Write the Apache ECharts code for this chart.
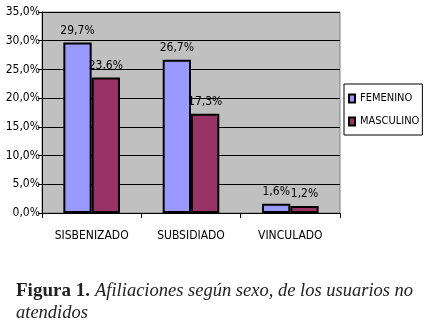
<!DOCTYPE html>
<html>
<head>
<meta charset="utf-8">
<script src="https://cdn.jsdelivr.net/npm/echarts@6/dist/echarts.min.js"></script>
<style>
  html, body { margin: 0; padding: 0; background: #fff; }
  #chart { width: 425px; height: 327px; }
</style>
</head>
<body>
<div id="chart"></div>
<script>
const categories = ['SISBENIZADO', 'SUBSIDIADO', 'VINCULADO'];
const femenino = [29.7, 26.7, 1.6];
const masculino = [23.6, 17.3, 1.2];
const seriesNames = ['FEMENINO', 'MASCULINO'];

const narrow = '"Liberation Sans Narrow", "DejaVu Sans Condensed", Arial, sans-serif';
const serif = '"Liberation Serif", "DejaVu Serif", serif';
const pct = v => v.toFixed(1).replace('.', ',') + '%';

const chart = echarts.init(document.getElementById('chart'));

const barLabel = {
  show: true,
  position: 'top',
  distance: 6,
  color: '#000',
  fontFamily: narrow,
  fontSize: 12,
  formatter: p => pct(p.value)
};

chart.setOption({
  animation: false,
  textStyle: { fontFamily: narrow },
  title: {
    left: 11,
    top: 275,
    text: '{b|Figura 1.} {i|Afiliaciones según sexo, de los usuarios no}\n{i|atendidos}',
    textStyle: {
      fontWeight: 'normal',
      rich: {
        b: { fontFamily: serif, fontWeight: 'bold', fontSize: 19, color: '#222', lineHeight: 22 },
        i: { fontFamily: serif, fontWeight: 'normal', fontStyle: 'italic', fontSize: 18.5, color: '#222', lineHeight: 22 }
      }
    }
  },
  grid: {
    left: 42, right: 85, top: 12, bottom: 114,
    show: true,
    backgroundColor: '#c0c0c0',
    borderColor: '#808080',
    borderWidth: 1
  },
  legend: {
    orient: 'vertical',
    left: 344,
    top: 84,
    padding: [9, 3, 8, 4],
    itemGap: 12,
    itemWidth: 6,
    itemHeight: 8,
    icon: 'rect',
    backgroundColor: '#fff',
    borderColor: '#000',
    borderWidth: 1,
    borderRadius: 0,
    textStyle: { fontFamily: narrow, fontSize: 11, color: '#000' },
    data: seriesNames
  },
  xAxis: {
    type: 'category',
    data: categories,
    axisLine: { lineStyle: { color: '#000', width: 1 } },
    axisTick: { show: true, length: 5, lineStyle: { color: '#000' } },
    axisLabel: { color: '#000', fontSize: 12, fontFamily: narrow, margin: 17 }
  },
  yAxis: {
    type: 'value',
    min: 0,
    max: 35,
    interval: 5,
    axisLine: { show: true, lineStyle: { color: '#000', width: 1 } },
    axisTick: { show: true, length: 4, lineStyle: { color: '#000' } },
    axisLabel: { color: '#000', fontSize: 12, fontFamily: narrow, margin: 2, formatter: pct },
    splitLine: { show: true, lineStyle: { color: '#000', width: 1 } }
  },
  series: [
    {
      name: seriesNames[0],
      type: 'bar',
      data: femenino,
      barGap: '0%',
      barCategoryGap: '43%',
      itemStyle: { color: '#9999ff', borderColor: '#000', borderWidth: 2 },
      label: barLabel
    },
    {
      name: seriesNames[1],
      type: 'bar',
      data: masculino,
      itemStyle: { color: '#993366', borderColor: '#000', borderWidth: 2 },
      label: barLabel
    }
  ]
});
</script>
</body>
</html>
